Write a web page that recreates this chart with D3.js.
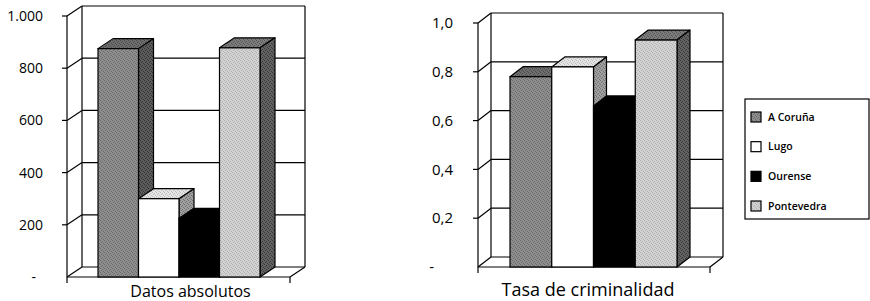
<!DOCTYPE html>
<html>
<head>
<meta charset="utf-8">
<script src="https://cdn.jsdelivr.net/npm/d3@7"></script>
<style>
  body { margin: 0; background: #fff; }
  svg { display: block; font-family: "Open Sans", "Noto Sans", sans-serif; }
</style>
</head>
<body>
<script>
// data
var provinces = ["A Coruña", "Lugo", "Ourense", "Pontevedra"];
var datosAbsolutos = [875, 300, 225, 878];
var tasaCriminalidad = [0.78, 0.82, 0.66, 0.93];
var absTicks = [0, 200, 400, 600, 800, 1000];
var tasaTicks = [0, 0.2, 0.4, 0.6, 0.8, 1.0];

var es = d3.formatLocale({decimal: ",", thousands: ".", grouping: [3], currency: ["", " €"]});

// face colours per province: front, top, side (base, speckle)
var faces = {
    "A Coruña":   {front: ["#8e8e8e", "#6a6a6a"], top: ["#6e6e6e", "#4a4a4a"], side: ["#5c5c5c", "#333"]},
    "Lugo":       {front: ["#ffffff", "#ffffff"], top: ["#e4e4e4", "#bdbdbd"], side: ["#a0a0a0", "#6e6e6e"]},
    "Ourense":    {front: ["#000", "#000"], top: ["#000", "#000"], side: ["#000", "#000"]},
    "Pontevedra": {front: ["#d2d2d2", "#b0b0b0"], top: ["#7c7c7c", "#555"], side: ["#626262", "#3a3a3a"]}
};

var W = 870, H = 301;

var svg = d3.select("body").append("svg")
    .attr("width", W)
    .attr("height", H);

var defs = svg.append("defs");

function makePattern(id, c) {
    var p = defs.append("pattern")
        .attr("id", id)
        .attr("width", 4).attr("height", 4)
        .attr("patternUnits", "userSpaceOnUse");
    p.append("rect").attr("width", 4).attr("height", 4).attr("fill", c[0]);
    [[0, 0], [2, 1], [1, 2], [3, 3]].forEach(function(q) {
        p.append("rect").attr("x", q[0]).attr("y", q[1])
            .attr("width", 1).attr("height", 1).attr("fill", c[1]);
    });
    return "url(#" + id + ")";
}

var fills = {};
provinces.forEach(function(p, i) {
    fills[p] = {
        front: makePattern("f" + i, faces[p].front),
        top: makePattern("t" + i, faces[p].top),
        side: makePattern("s" + i, faces[p].side)
    };
});

function drawChart(cfg) {
    var g = svg.append("g");
    var y = d3.scaleLinear().domain([cfg.ticks[0], cfg.ticks[cfg.ticks.length - 1]])
        .range([cfg.y0, cfg.yTop]);
    var x = d3.scaleBand().domain(provinces)
        .range([cfg.x0 + cfg.padL, cfg.x1 - cfg.padR]);
    var dx = cfg.dx, dy = cfg.dy;
    var line = function(a, b, c, d) {
        g.append("line").attr("x1", a).attr("y1", b).attr("x2", c).attr("y2", d)
            .attr("stroke", "#000").attr("stroke-width", 1.2);
    };

    // back wall, gridlines and left wall diagonals
    cfg.ticks.forEach(function(t) {
        var yy = y(t);
        line(cfg.x0 + dx, yy - dy, cfg.x1 + dx, yy - dy);
        line(cfg.x0, yy, cfg.x0 + dx, yy - dy);
        if (t !== 0) line(cfg.x0 - 5, yy, cfg.x0, yy);
    });
    line(cfg.x0 + dx, y(cfg.ticks[0]) - dy, cfg.x0 + dx, cfg.yTop - dy);
    line(cfg.x1 + dx, y(cfg.ticks[0]) - dy, cfg.x1 + dx, cfg.yTop - dy);
    line(cfg.x0, cfg.y0, cfg.x0, cfg.yTop);
    // floor
    line(cfg.x0, cfg.y0, cfg.x1, cfg.y0);
    line(cfg.x1, cfg.y0, cfg.x1 + dx, cfg.y0 - dy);
    line(cfg.x0, cfg.y0, cfg.x0, cfg.y0 + 6);
    line(cfg.x1, cfg.y0, cfg.x1, cfg.y0 + 6);

    // bars, left to right so the next front hides the previous side
    provinces.forEach(function(p, i) {
        var v = cfg.values[i];
        var bx = x(p), bw = x.bandwidth(), yv = y(v), yb = cfg.y0;
        var f = fills[p];
        g.append("path")
            .attr("d", "M" + bx + "," + yv + "L" + (bx + dx) + "," + (yv - dy) +
                "L" + (bx + bw + dx) + "," + (yv - dy) + "L" + (bx + bw) + "," + yv + "Z")
            .attr("fill", f.top).attr("stroke", "#000").attr("stroke-width", 1.2)
            .attr("stroke-linejoin", "round");
        g.append("path")
            .attr("d", "M" + (bx + bw) + "," + yv + "L" + (bx + bw + dx) + "," + (yv - dy) +
                "L" + (bx + bw + dx) + "," + (yb - dy) + "L" + (bx + bw) + "," + yb + "Z")
            .attr("fill", f.side).attr("stroke", "#000").attr("stroke-width", 1.2)
            .attr("stroke-linejoin", "round");
        g.append("rect")
            .attr("x", bx).attr("y", yv)
            .attr("width", bw).attr("height", yb - yv)
            .attr("fill", f.front).attr("stroke", "#000").attr("stroke-width", 1.2);
    });

    // tick labels
    cfg.ticks.forEach(function(t) {
        var isZero = t === 0;
        g.append("text")
            .attr("x", isZero ? cfg.dashX : cfg.labelX)
            .attr("y", y(t))
            .attr("dy", "0.35em")
            .attr("text-anchor", "end")
            .attr("font-size", cfg.tickSize)
            .attr("fill", "#000")
            .text(isZero ? "-" : cfg.fmt(t));
    });

    g.append("text")
        .attr("x", (cfg.x0 + cfg.x1) / 2 + cfg.titleShift)
        .attr("y", cfg.titleY)
        .attr("text-anchor", "middle")
        .attr("font-size", cfg.titleSize)
        .attr("fill", "#000")
        .text(cfg.title);
}

drawChart({
    values: datosAbsolutos, ticks: absTicks, fmt: es.format(",.0f"),
    x0: 67, x1: 290, y0: 277, yTop: 16, dx: 15, dy: 10, padL: 31, padR: 30,
    labelX: 43, dashX: 36, tickSize: 14,
    title: "Datos absolutos", titleY: 297, titleSize: 16, titleShift: 12
});

drawChart({
    values: tasaCriminalidad, ticks: tasaTicks, fmt: es.format(".1f"),
    x0: 478, x1: 710, y0: 267, yTop: 23, dx: 13, dy: 10, padL: 32, padR: 33,
    labelX: 453, dashX: 434, tickSize: 15,
    title: "Tasa de criminalidad", titleY: 296, titleSize: 18, titleShift: -6
});

// legend
var legend = svg.append("g");
legend.append("rect")
    .attr("x", 745).attr("y", 99)
    .attr("width", 124).attr("height", 120)
    .attr("fill", "#fff").attr("stroke", "#000").attr("stroke-width", 1.2);

var ly = d3.scalePoint().domain(provinces).range([117, 206]);
provinces.forEach(function(p) {
    legend.append("rect")
        .attr("x", 751).attr("y", ly(p) - 5)
        .attr("width", 10).attr("height", 10)
        .attr("fill", fills[p].front).attr("stroke", "#000").attr("stroke-width", 1.2);
    legend.append("text")
        .attr("x", 768).attr("y", ly(p))
        .attr("dy", "0.35em")
        .attr("font-size", 10.5)
        .attr("font-weight", 600)
        .attr("fill", "#000")
        .text(p);
});
</script>
</body>
</html>
